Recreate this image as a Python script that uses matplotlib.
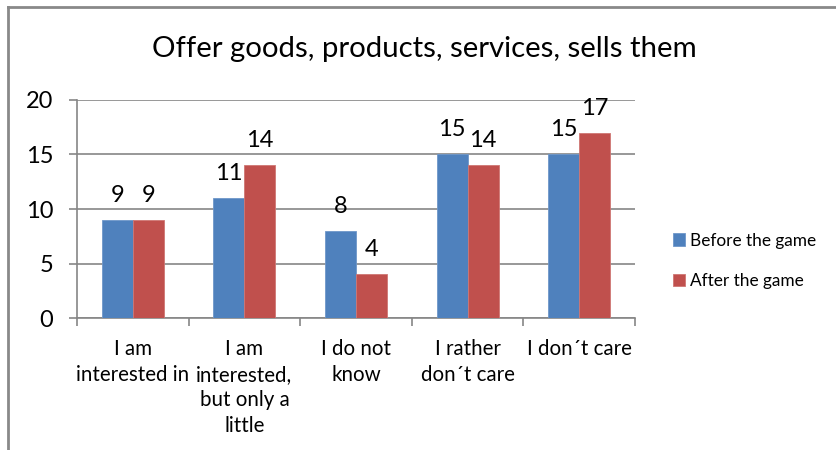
import numpy as np
import matplotlib.pyplot as plt
from matplotlib.lines import Line2D

plt.rcParams['font.family'] = ['Lato', 'DejaVu Sans']

# categorias y respuestas
categorias = ['I am\ninterested in', 'I am\ninterested,\nbut only a\nlittle',
              'I do not\nknow', 'I rather\ndon\u00b4t care', 'I don\u00b4t care']
antes = [9, 11, 8, 15, 15]
despues = [9, 14, 4, 14, 17]
series = ['Before the game', 'After the game']
yticks = [0, 5, 10, 15, 20]

azul = '#4F81BD'
rojo = '#C0504D'
gris = '#868686'

fig = plt.figure(figsize=(8.37, 4.5), dpi=100)
ax = fig.add_axes([0.092, 0.2933, 0.6667, 0.4845])

x = np.arange(len(categorias))
w = 0.278
b1 = ax.bar(x - w/2, antes, w, color=azul, edgecolor='#6F97C9', linewidth=0.6, label=series[0], zorder=3)
b2 = ax.bar(x + w/2, despues, w, color=rojo, edgecolor='#CF7673', linewidth=0.6, label=series[1], zorder=3)

# etiquetas de valores
for barras in (b1, b2):
    for r in barras:
        ax.annotate(str(int(r.get_height())), (r.get_x() + r.get_width()/2, r.get_height()),
                    xytext=(0, 13), textcoords='offset points', ha='center', va='baseline',
                    fontsize=17)

ax.set_xlim(-0.5, len(categorias) - 0.5)
ax.set_ylim(0, 20)
ax.set_yticks(yticks)
ax.set_yticklabels([str(v) for v in yticks], fontsize=17)
ax.yaxis.grid(True, color=gris, linewidth=1.2, zorder=0)
ax.set_axisbelow(True)

ax.set_xticks(np.arange(len(categorias) + 1) - 0.5)
ax.set_xticklabels([])
ax.set_xticks(x, minor=True)
ax.set_xticklabels(categorias, minor=True, fontsize=14.8, linespacing=1.36)
ax.tick_params(axis='x', which='minor', length=0, pad=15)
ax.tick_params(axis='x', which='major', length=6, color=gris, width=1.2)
ax.tick_params(axis='y', length=6, color=gris, width=1.2, pad=11)

for s in ['top', 'right']:
    ax.spines[s].set_visible(False)
for s in ['left', 'bottom']:
    ax.spines[s].set_color(gris)
    ax.spines[s].set_linewidth(1.2)

fig.suptitle('Offer goods, products, services, sells them', x=0.507, y=0.92, fontsize=21.2)

ax.legend(loc='center left', bbox_to_anchor=(0.785, 0.42), bbox_transform=fig.transFigure,
          frameon=False, fontsize=12.4, handlelength=0.7, handleheight=0.7,
          handletextpad=0.3, labelspacing=1.45)

# marco del grafico
fig.add_artist(Line2D([0.0096, 0.0096], [0, 0.984], color='#898989', linewidth=2, transform=fig.transFigure))
fig.add_artist(Line2D([0.0096, 1.0], [0.984, 0.984], color='#898989', linewidth=2, transform=fig.transFigure))

fig.savefig('out.png', dpi=100)
